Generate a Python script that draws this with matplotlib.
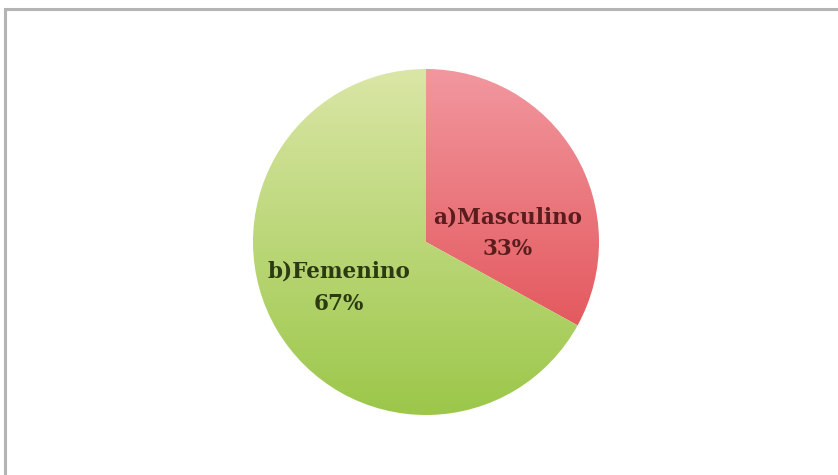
import matplotlib.pyplot as plt
import numpy as np
from matplotlib.colors import LinearSegmentedColormap
from matplotlib.patches import Rectangle

# Datos
categorias = ['a)Masculino', 'b)Femenino']
valores = [33, 67]
colores_sup = ['#f2979f', '#dae6a6']
colores_inf = ['#de4448', '#9cc74a']
colores_texto = ['#5a1c1c', '#2c3a12']

W, H = 838, 475
fig = plt.figure(figsize=(W / 100, H / 100), dpi=100)
ax = fig.add_axes([0, 0, 1, 1])

# marco gris del gráfico (solo arriba e izquierda visibles)
fig.patches.append(Rectangle((5 / W, -0.1), 1.2, (H - 9) / H + 0.1,
                             transform=fig.transFigure, fill=False,
                             edgecolor='#b4b4b4', linewidth=2.2))

cx, cy, r = 426, H - 242, 173
wedges, _ = ax.pie(valores, center=(cx, cy), radius=r, startangle=90,
                   counterclock=False, frame=True,
                   wedgeprops=dict(facecolor='none', edgecolor='none'))
ax.set_xlim(0, W)
ax.set_ylim(0, H)
ax.axis('off')

grad = np.linspace(0, 1, 256).reshape(-1, 1)
for w, c1, c2 in zip(wedges, colores_sup, colores_inf):
    cmap = LinearSegmentedColormap.from_list('g', [c1, c2])
    im = ax.imshow(grad, cmap=cmap, aspect='auto', origin='upper',
                   extent=(cx - r, cx + r, cy - r, cy + r), zorder=1)
    im.set_clip_path(w)

# etiquetas
pos = [(0.47, 0.05), (-0.505, -0.265)]
for cat, v, (dx, dy), col in zip(categorias, valores, pos, colores_texto):
    ax.text(cx + dx * r, cy + dy * r, f'{cat}\n{v}%', ha='center', va='center',
            fontsize=15.5, fontweight='bold', family='DejaVu Serif',
            color=col, linespacing=1.6, zorder=3)

plt.savefig('out.png', dpi=100)
